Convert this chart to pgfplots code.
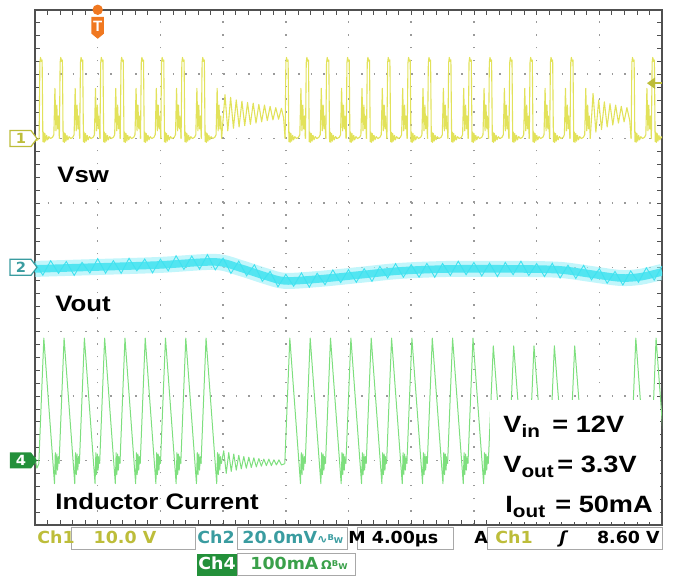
\documentclass[border=0pt]{standalone}
\usepackage{pgfplots}
\pgfplotsset{compat=1.18}
\usepackage{pgfplotstable}
\usepackage{fontspec}
\setmainfont{Liberation Sans}
\newfontfamily\labfont[FakeStretch=1.15]{Liberation Sans}
\newfontfamily\statfont[FakeStretch=1.05]{DejaVu Sans}
\usetikzlibrary{calc}

\definecolor{vswcol}{HTML}{E2E25A}
\definecolor{ch2col}{HTML}{3FE2F0}
\definecolor{ch2light}{HTML}{9AF0F8}
\definecolor{ch4col}{HTML}{7EDF7E}
\definecolor{gridgray}{HTML}{9A9A9A}
\definecolor{framegray}{HTML}{505050}
\definecolor{boxgray}{HTML}{A8A8A8}
\definecolor{ch1lab}{HTML}{BDBD3A}
\definecolor{ch2lab}{HTML}{3A9CA0}
\definecolor{ch4lab}{HTML}{23903A}
\definecolor{ch4txt}{HTML}{3AA04A}
\definecolor{trigor}{HTML}{F07820}

\newcommand\sbf{\statfont\bfseries\fontsize{8.3}{9}\selectfont}
\newcommand\lbf{\labfont\bfseries\fontsize{11.2}{12}\selectfont}
\newcommand\vbf{\labfont\bfseries\fontsize{11.8}{12}\selectfont}
\newcommand\sub[1]{\raisebox{-2.6pt}{\fontsize{9}{9}\selectfont #1}}

% one switching period of Vsw, time relative to the pulse centre (div)
\pgfplotstableread{
t v
-0.030 6.00
-0.018 7.18
-0.008 7.26
0.006 7.20
0.018 7.22
0.030 5.95
0.040 6.10
0.050 5.94
0.062 6.08
0.075 5.96
0.090 6.05
0.105 5.98
0.125 6.03
0.150 6.00
0.185 6.02
0.205 6.06
0.222 6.78
0.238 6.12
0.252 6.52
0.266 6.15
0.279 6.35
0.2934 6.00
}\vswpulse

% inductor current, same period
\pgfplotstableread{
t v
-0.035 0.95
0.045 2.90
0.215 0.64
0.228 1.12
0.240 0.78
0.252 1.10
0.264 0.85
0.276 1.06
0.2884 0.95
}\ilpulse

\pgfplotstableread{
t v
-0.035 0.95
0.045 2.78
0.215 0.64
0.228 1.12
0.240 0.78
0.252 1.10
0.264 0.85
0.276 1.06
0.2884 0.95
}\ilpulselow

% ringing in the skipped cycles
\pgfplotstableread{
t v
2.976 6.00
3.030 6.68
3.075 6.12
3.120 6.64
3.165 6.16
3.210 6.60
3.255 6.18
3.300 6.58
3.345 6.20
3.390 6.56
3.435 6.22
3.480 6.55
3.525 6.24
3.570 6.53
3.615 6.26
3.660 6.52
3.705 6.28
3.750 6.50
3.795 6.29
3.840 6.48
3.885 6.30
3.930 6.47
3.965 6.32
3.989 6.00
}\vswgapa

\pgfplotstableread{
t v
8.855 6.00
8.900 6.70
8.945 6.10
8.990 6.60
9.035 6.14
9.080 6.57
9.125 6.18
9.170 6.54
9.215 6.21
9.260 6.52
9.305 6.24
9.350 6.50
9.395 6.26
9.440 6.48
9.485 6.28
9.507 6.00
}\vswgapb

\pgfplotstableread{
t v
2.971 0.95
3.010 1.15
3.050 0.80
3.090 1.12
3.130 0.83
3.170 1.10
3.210 0.85
3.250 1.08
3.290 0.87
3.330 1.06
3.370 0.88
3.410 1.05
3.450 0.89
3.490 1.04
3.530 0.90
3.570 1.03
3.610 0.91
3.650 1.02
3.690 0.92
3.730 1.02
3.770 0.92
3.810 1.01
3.850 0.93
3.890 1.01
3.930 0.93
3.984 0.95
}\ilgapa

\pgfplotstableread{
t v
8.850 0.95
8.890 1.15
8.930 0.80
8.970 1.12
9.010 0.83
9.050 1.10
9.090 0.85
9.130 1.08
9.170 0.87
9.210 1.06
9.250 0.88
9.290 1.05
9.330 0.89
9.370 1.04
9.410 0.90
9.450 1.03
9.502 0.95
}\ilgapb

% Vout: slow trend of the trace
\pgfplotstableread{
t v
0.000 3.975
1.037 4.006
1.994 4.037
2.871 4.084
3.270 3.991
3.668 3.866
3.987 3.789
4.545 3.820
5.183 3.882
5.821 3.944
6.619 3.975
7.735 3.975
8.373 3.960
8.852 3.898
9.330 3.835
9.649 3.851
10.000 3.929
}\vouttrend

% Vout: noise spikes on the trace
\pgfplotstableread{
t v
0.000 4.065
0.125 3.878
0.250 4.102
0.375 3.906
0.500 4.090
0.625 3.874
0.750 4.077
0.875 3.911
1.000 4.135
1.125 3.909
1.250 4.103
1.375 3.907
1.500 4.141
1.625 3.945
1.750 4.129
1.875 3.913
2.000 4.127
2.125 3.944
2.250 4.180
2.375 3.967
2.500 4.174
2.625 3.970
2.750 4.197
2.875 3.960
3.000 4.144
3.125 3.905
3.250 4.096
3.375 3.868
3.500 4.039
3.625 3.782
3.750 3.936
3.875 3.698
4.000 3.890
4.125 3.707
4.250 3.914
4.375 3.691
4.500 3.908
4.625 3.729
4.750 3.960
4.875 3.762
5.000 3.964
5.125 3.767
5.250 3.979
5.375 3.781
5.500 4.013
5.625 3.835
5.750 4.057
5.875 3.845
6.000 4.042
6.125 3.846
6.250 4.060
6.375 3.845
6.500 4.060
6.625 3.873
6.750 4.095
6.875 3.885
7.000 4.075
7.125 3.865
7.250 4.065
7.375 3.855
7.500 4.075
7.625 3.885
7.750 4.095
7.875 3.872
8.000 4.059
8.125 3.856
8.250 4.063
8.375 3.833
8.500 4.033
8.625 3.827
8.750 4.031
8.875 3.805
9.000 3.979
9.125 3.752
9.250 3.936
9.375 3.725
9.500 3.944
9.625 3.768
9.750 3.993
9.875 3.801
10.000 4.019
}\voutnoise

\begin{document}
\begin{tikzpicture}
\begin{axis}[
    scale only axis,
    width=313.5pt, height=257.5pt,
    xmin=0, xmax=10, ymin=0, ymax=8,
    xtick={0,...,10}, ytick={0,...,8},
    minor x tick num=4, minor y tick num=4,
    xticklabels={}, yticklabels={},
    xtick pos=both, ytick pos=both, tick align=inside,
    major tick length=2.5pt, minor tick length=2.5pt,
    tick style={framegray, line width=0.4pt},
    grid=major,
    x grid style={gridgray, line width=0.75pt, dash pattern=on 0.75pt off 5.6875pt},
    y grid style={gridgray, line width=0.75pt, dash pattern=on 0.75pt off 5.52pt},
    axis line style={framegray, line width=1.2pt},
    clip mode=individual,
    vswline/.style={vswcol, line width=0.55pt, line join=round},
    illine/.style={ch4col, line width=0.5pt, line join=round},
]
% --- Ch1: switch node
\addplot[vswline] coordinates {(0,6.02) (0.03,5.97) (0.066,6.00)};
\pgfplotsinvokeforeach{0.096,0.419,0.743,1.066,1.390,1.713,2.036,2.360,2.683,4.019,4.344,4.668,4.993,5.317,5.642,5.966,6.291,6.615,6.940,7.264,7.589,7.913,8.238,8.562,9.537,9.860}{
  \addplot[vswline] table[x expr=\thisrow{t}+#1, y=v] {\vswpulse};
}
\addplot[vswline] table[x=t, y=v] {\vswgapa};
\addplot[vswline] table[x=t, y=v] {\vswgapb};

% --- Ch2: output voltage
\addplot[ch2light, line width=8pt, opacity=0.6, smooth, line cap=butt] table[x=t, y=v] {\vouttrend};
\addplot[ch2col!90!white, line width=3.8pt, smooth, line cap=butt] table[x=t, y=v] {\vouttrend};
\addplot[ch2col, line width=0.45pt] table[x=t, y=v] {\voutnoise};

% --- Ch4: inductor current
\addplot[illine] coordinates {(0,1.05) (0.03,0.88) (0.061,0.95)};
\pgfplotsinvokeforeach{0.096,0.419,0.743,1.066,1.390,1.713,2.036,2.360,2.683,4.019,4.344,4.668,4.993,5.317,5.642,5.966,6.291,6.615,6.940,9.537,9.860}{
  \addplot[illine] table[x expr=\thisrow{t}+#1, y=v] {\ilpulse};
}
\pgfplotsinvokeforeach{7.264,7.589,7.913,8.238,8.562}{
  \addplot[illine] table[x expr=\thisrow{t}+#1, y=v] {\ilpulselow};
}
\addplot[illine] table[x=t, y=v] {\ilgapa};
\addplot[illine] table[x=t, y=v] {\ilgapb};

% --- annotations on the screen
\fill[white] (axis cs:7.26,0.04) rectangle (axis cs:9.97,1.94);
\node[anchor=base west, inner sep=0, font=\lbf] at (axis cs:0.351,5.31) {Vsw};
\node[anchor=base west, inner sep=0, font=\lbf] at (axis cs:0.319,3.307) {Vout};
\node[anchor=base west, inner sep=0, font=\lbf] at (axis cs:0.319,0.233) {Inductor Current};

\node[anchor=base west, inner sep=0, font=\vbf] at (axis cs:7.464,1.43) {V\sub{in}};
\node[anchor=base west, inner sep=0, font=\vbf] at (axis cs:8.246,1.43) {= 12V};
\node[anchor=base west, inner sep=0, font=\vbf] at (axis cs:7.464,0.81) {V\sub{out}};
\node[anchor=base west, inner sep=0, font=\vbf] at (axis cs:8.325,0.81) {= 3.3V};
\node[anchor=base west, inner sep=0, font=\vbf] at (axis cs:7.496,0.19) {I\sub{out}};
\node[anchor=base west, inner sep=0, font=\vbf] at (axis cs:8.293,0.19) {= 50mA};

% channel markers
\draw[ch1lab, fill=white, line width=0.6pt] ($(axis cs:0,6)+(1pt,0)$) -- ++(-3pt,4pt) -- ++(-10.5pt,0) -- ++(0,-8pt) -- ++(10.5pt,0) -- cycle;
\node[ch1lab, inner sep=0, font=\statfont\bfseries\fontsize{7}{7}\selectfont] at ($(axis cs:0,6)+(-7pt,0)$) {1};
\draw[ch2lab, fill=white, line width=0.6pt] ($(axis cs:0,4)+(1pt,0)$) -- ++(-3pt,4pt) -- ++(-10.5pt,0) -- ++(0,-8pt) -- ++(10.5pt,0) -- cycle;
\node[ch2lab, inner sep=0, font=\statfont\bfseries\fontsize{7}{7}\selectfont] at ($(axis cs:0,4)+(-7pt,0)$) {2};
\fill[ch4lab] ($(axis cs:0,1)+(1pt,0)$) -- ++(-3pt,4pt) -- ++(-10.5pt,0) -- ++(0,-8pt) -- ++(10.5pt,0) -- cycle;
\node[white, inner sep=0, font=\statfont\bfseries\fontsize{7}{7}\selectfont] at ($(axis cs:0,1)+(-7pt,0)$) {4};

% trigger position and level
\fill[trigor] (axis cs:1.0,8.0) circle (2.6pt);
\fill[trigor] (axis cs:0.90,7.89) -- (axis cs:1.10,7.89) -- (axis cs:1.10,7.63) -- (axis cs:1.0,7.55) -- (axis cs:0.90,7.63) -- cycle;
\node[white, inner sep=0, font=\bfseries\fontsize{7.5}{8}\selectfont] at (axis cs:1.0,7.74) {T};
\fill[ch1lab] (axis cs:9.76,6.86) -- (axis cs:9.89,6.95) -- (axis cs:9.89,6.77) -- cycle;
\draw[ch1lab, line width=0.8pt] (axis cs:9.89,6.86) -- (axis cs:10,6.86);

% --- status line
\draw[boxgray, line width=0.5pt] (axis cs:0.590,-0.047) rectangle (axis cs:2.552,-0.388);
\draw[boxgray, line width=0.5pt] (axis cs:3.222,-0.047) rectangle (axis cs:4.976,-0.388);
\draw[boxgray, line width=0.5pt] (axis cs:5.136,-0.047) rectangle (axis cs:6.667,-0.388);
\draw[boxgray, line width=0.5pt] (axis cs:7.209,-0.047) rectangle (axis cs:10.0,-0.388);
\draw[boxgray, line width=0.5pt] (axis cs:3.222,-0.45) rectangle (axis cs:5.104,-0.79);
\fill[ch4lab] (axis cs:2.584,-0.45) rectangle (axis cs:3.222,-0.79);

\node[anchor=base west, inner sep=0, ch1lab, font=\sbf] at (axis cs:0.032,-0.295) {Ch1};
\node[anchor=base, inner sep=0, ch1lab, font=\sbf] at (axis cs:1.435,-0.295) {10.0 V};
\node[anchor=base west, inner sep=0, ch2lab, font=\sbf] at (axis cs:2.584,-0.295) {Ch2};
\node[anchor=base west, inner sep=0, ch2lab, font=\sbf] at (axis cs:3.301,-0.295) {20.0mV{\fontsize{6}{6}\selectfont ∿\raisebox{1.5pt}{\fontsize{4}{4}\selectfont B}{\fontsize{4}{4}\selectfont W}}};
\node[anchor=base west, inner sep=0, font=\sbf] at (axis cs:4.992,-0.295) {M};
\node[anchor=base, inner sep=0, font=\sbf] at (axis cs:5.901,-0.295) {4.00µs};
\node[anchor=base, inner sep=0, font=\sbf] at (axis cs:7.113,-0.295) {A};
\node[anchor=base west, inner sep=0, ch1lab, font=\sbf] at (axis cs:7.337,-0.295) {Ch1};
\node[anchor=base, inner sep=0, font=\sbf\itshape] at (axis cs:8.421,-0.295) {ʃ};
\node[anchor=base east, inner sep=0, font=\sbf] at (axis cs:9.968,-0.295) {8.60 V};
\node[anchor=base, inner sep=0, white, font=\sbf] at (axis cs:2.903,-0.699) {Ch4};
\node[anchor=base west, inner sep=0, ch4txt, font=\sbf] at (axis cs:3.429,-0.699) {100mA\,{\fontsize{6}{6}\selectfont Ω\raisebox{1.5pt}{\fontsize{4}{4}\selectfont B}{\fontsize{4}{4}\selectfont W}}};

\coordinate (bbsw) at (axis cs:-0.558,-0.807);
\coordinate (bbne) at (axis cs:10.191,8.152);
\end{axis}
\pgfresetboundingbox
\useasboundingbox (bbsw) rectangle (bbne);
\end{tikzpicture}
\end{document}
